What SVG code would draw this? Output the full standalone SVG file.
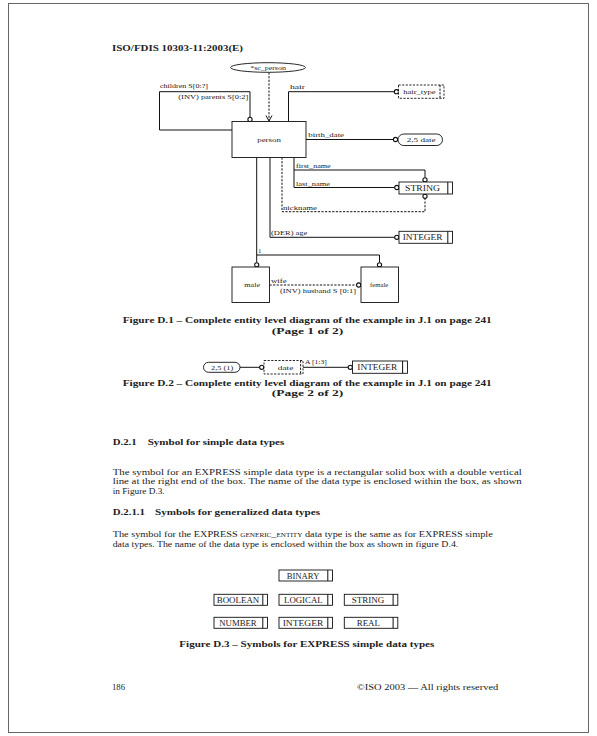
<svg xmlns="http://www.w3.org/2000/svg" width="597" height="736" viewBox="0 0 597 736">
<style>
text{font-family:"Liberation Serif","Times New Roman",serif;fill:#222}
.b{font-weight:bold}
.t{font-size:8.6px}
.s{font-size:7px}
.m{text-anchor:middle}
.e{text-anchor:end}
.ln{fill:none;stroke:#111;stroke-width:1}
.dl{fill:none;stroke:#111;stroke-width:1;stroke-dasharray:2.2,1.4}
.box{fill:#fff;stroke:#111;stroke-width:0.9}
.dbox{fill:#fff;stroke:#111;stroke-width:0.9;stroke-dasharray:2.2,1.4}
.c{fill:#fff;stroke:#111;stroke-width:1.1}
.dt{font-size:7.8px}
</style>
<rect x="0" y="0" width="597" height="736" fill="#fff"/>
<rect x="8.5" y="3.5" width="580" height="729" fill="none" stroke="#666" stroke-width="1"/>

<text class="b t" x="112" y="50.5" textLength="131" lengthAdjust="spacingAndGlyphs">ISO/FDIS 10303-11:2003(E)</text>

<!-- Figure D.1 -->
<g id="connectors">
  <path class="dl" d="M269,72.5 V120.5"/>
  <path class="ln" d="M266,115.5 L269,121 L272,115.5" stroke-width="0.8"/>
  <path class="ln" d="M250,117.3 V91.7 H159.5 V130 H232"/>
  <path class="ln" d="M288.5,121.5 V91.7 H394.3"/>
  <path class="ln" d="M306,139.5 H393.3"/>
  <path class="ln" d="M294,157.5 V187.5 H394.6"/>
  <path class="ln" d="M294,170 H425 V177.6"/>
  <path class="dl" d="M282,157.5 V211.7 H425 V198.5"/>
  <path class="ln" d="M270,157.5 V237.3 H394.6"/>
  <path class="ln" d="M256.7,157.5 V255 H379.5 V262.6"/>
  <path class="ln" d="M256.7,255 V262.6"/>
  <path class="dl" d="M269.5,285 H356.5"/>
  <circle class="c" cx="250" cy="119.4" r="2.1"/>
  <circle class="c" cx="396.4" cy="91.7" r="2.1"/>
  <circle class="c" cx="395.5" cy="139.5" r="2.1"/>
  <circle class="c" cx="425" cy="179.8" r="2.1"/>
  <circle class="c" cx="396.8" cy="187.5" r="2.1"/>
  <circle class="c" cx="425" cy="196.3" r="2.1"/>
  <circle class="c" cx="396.8" cy="237.3" r="2.1"/>
  <circle class="c" cx="256.7" cy="264.8" r="2.1"/>
  <circle class="c" cx="379.5" cy="264.8" r="2.1"/>
  <circle class="c" cx="358.7" cy="285" r="2.1"/>
  <text class="s" x="160" y="87.5" textLength="48" lengthAdjust="spacingAndGlyphs">children S[0:?]</text>
  <text class="s" x="178.3" y="98.8" textLength="70" lengthAdjust="spacingAndGlyphs">(INV) parents S[0:2]</text>
  <text class="s" x="290" y="89.3" textLength="15" lengthAdjust="spacingAndGlyphs">hair</text>
  <text class="s" x="308.3" y="137.2" textLength="35.7" lengthAdjust="spacingAndGlyphs">birth_date</text>
  <text class="s" x="296" y="168" textLength="34.7" lengthAdjust="spacingAndGlyphs">first_name</text>
  <text class="s" x="296" y="185.5" textLength="34" lengthAdjust="spacingAndGlyphs">last_name</text>
  <text class="s" x="283" y="210" textLength="34" lengthAdjust="spacingAndGlyphs">nickname</text>
  <text class="s" x="271" y="235.3" textLength="36.3" lengthAdjust="spacingAndGlyphs">(DER) age</text>
  <text class="s" x="258" y="252.7">1</text>
  <text class="s" x="271" y="283.3" textLength="15.7" lengthAdjust="spacingAndGlyphs">wife</text>
  <text class="s" x="280" y="292.5" textLength="76" lengthAdjust="spacingAndGlyphs">(INV) husband S [0:1]</text>
</g>

<g id="sc_person">
  <ellipse cx="268" cy="67.5" rx="37.5" ry="4.8" class="box"/>
  <text class="s" x="250.2" y="69.8" textLength="35.7" lengthAdjust="spacingAndGlyphs">*sc_person</text>
</g>
<g id="person">
  <rect class="box" x="232" y="121.5" width="74" height="36"/>
  <text class="s" x="257.2" y="141.5" textLength="23.7" lengthAdjust="spacingAndGlyphs">person</text>
</g>
<g id="hair_type">
  <rect class="dbox" x="398.5" y="85" width="45.5" height="13.3"/>
  <path class="dl" d="M440,85 V98.3" stroke-width="0.9"/>
  <text class="s" x="403.3" y="93.9" textLength="32.3" lengthAdjust="spacingAndGlyphs">hair_type</text>
</g>
<g id="date_2_5">
  <rect class="box" x="398" y="134" width="44.5" height="11.5" rx="5.75"/>
  <text class="s" x="406.7" y="142.2" textLength="29" lengthAdjust="spacingAndGlyphs">2,5 date</text>
</g>
<g id="STRING">
  <rect class="box" x="399" y="182" width="53.5" height="12"/>
  <path class="ln" d="M447.8,182 V194" stroke-width="0.9"/>
  <text class="dt" x="405" y="191" textLength="35" lengthAdjust="spacingAndGlyphs">STRING</text>
</g>
<g id="INTEGER">
  <rect class="box" x="399" y="231.3" width="53.5" height="12"/>
  <path class="ln" d="M447.8,231.3 V243.3" stroke-width="0.9"/>
  <text class="dt" x="402.7" y="240.3" textLength="39.7" lengthAdjust="spacingAndGlyphs">INTEGER</text>
</g>
<g id="male">
  <rect class="box" x="232" y="267" width="37.5" height="35.5"/>
  <text class="s" x="244.3" y="287.2" textLength="15.7" lengthAdjust="spacingAndGlyphs">male</text>
</g>
<g id="female">
  <rect class="box" x="361" y="267" width="37.5" height="35.5"/>
  <text class="s" x="370" y="287.2" textLength="18.3" lengthAdjust="spacingAndGlyphs">female</text>
</g>

<text class="b t" x="122.7" y="323.3" textLength="369" lengthAdjust="spacingAndGlyphs">Figure D.1 – Complete entity level diagram of the example in J.1 on page 241</text>
<text class="b t" x="271.7" y="333.7" textLength="71.6" lengthAdjust="spacingAndGlyphs">(Page 1 of 2)</text>

<!-- Figure D.2 -->
<g id="connectors2">
  <path class="ln" d="M240,367.3 H259.6"/>
  <path class="ln" d="M303,367.3 H348.2"/>
  <circle class="c" cx="261.7" cy="367.3" r="2.1"/>
  <circle class="c" cx="350.3" cy="367.3" r="2.1"/>
  <text class="s" x="305" y="363.5" textLength="21.7" lengthAdjust="spacingAndGlyphs">A [1:3]</text>
</g>
<g id="d2_2_5_1">
  <rect class="box" x="203.5" y="362.3" width="36.5" height="10" rx="5"/>
  <text class="s" x="211" y="369.7" textLength="22.3" lengthAdjust="spacingAndGlyphs">2,5 (1)</text>
</g>
<g id="d2_date">
  <rect class="dbox" x="264" y="360.5" width="39" height="13.5"/>
  <path class="dl" d="M300.6,360.5 V374" stroke-width="0.9"/>
  <text class="s" x="277.7" y="369.8" textLength="15.7" lengthAdjust="spacingAndGlyphs">date</text>
</g>
<g id="d2_INTEGER">
  <rect class="box" x="352.5" y="361" width="55" height="12.3"/>
  <path class="ln" d="M402.6,361 V373.3" stroke-width="0.9"/>
  <text class="dt" x="357.3" y="370.2" textLength="40" lengthAdjust="spacingAndGlyphs">INTEGER</text>
</g>

<text class="b t" x="122.7" y="386" textLength="369" lengthAdjust="spacingAndGlyphs">Figure D.2 – Complete entity level diagram of the example in J.1 on page 241</text>
<text class="b t" x="271.7" y="396.3" textLength="71.6" lengthAdjust="spacingAndGlyphs">(Page 2 of 2)</text>

<!-- Text -->
<text class="b t" x="112.7" y="445" textLength="24" lengthAdjust="spacingAndGlyphs">D.2.1</text>
<text class="b t" x="147.7" y="445" textLength="136.6" lengthAdjust="spacingAndGlyphs">Symbol for simple data types</text>
<text class="t" x="112.7" y="474.5" textLength="409" lengthAdjust="spacingAndGlyphs">The symbol for an EXPRESS simple data type is a rectangular solid box with a double vertical</text>
<text class="t" x="112.7" y="484" textLength="409" lengthAdjust="spacingAndGlyphs">line at the right end of the box. The name of the data type is enclosed within the box, as shown</text>
<text class="t" x="112.7" y="493.5" textLength="52" lengthAdjust="spacingAndGlyphs">in Figure D.3.</text>
<text class="b t" x="112.7" y="514.5" textLength="32.3" lengthAdjust="spacingAndGlyphs">D.2.1.1</text>
<text class="b t" x="155" y="514.5" textLength="165" lengthAdjust="spacingAndGlyphs">Symbols for generalized data types</text>
<text class="t" x="112.7" y="537" textLength="380" lengthAdjust="spacingAndGlyphs">The symbol for the EXPRESS <tspan font-variant="small-caps">generic_entity</tspan> data type is the same as for EXPRESS simple</text>
<text class="t" x="112.7" y="546.8" textLength="345.6" lengthAdjust="spacingAndGlyphs">data types. The name of the data type is enclosed within the box as shown in figure D.4.</text>

<!-- Figure D.3 -->
<g id="BINARY">
  <rect class="box" x="279" y="570" width="53.5" height="11"/>
  <path class="ln" d="M327.8,570 V581" stroke-width="0.9"/>
  <text class="dt" x="286.7" y="578.5" textLength="32.7" lengthAdjust="spacingAndGlyphs">BINARY</text>
</g>
<g id="BOOLEAN">
  <rect class="box" x="214" y="594.3" width="53.5" height="11"/>
  <path class="ln" d="M262.8,594.3 V605.3" stroke-width="0.9"/>
  <text class="dt" x="216.7" y="602.8" textLength="42.6" lengthAdjust="spacingAndGlyphs">BOOLEAN</text>
</g>
<g id="LOGICAL">
  <rect class="box" x="279" y="594.3" width="53.5" height="11"/>
  <path class="ln" d="M327.8,594.3 V605.3" stroke-width="0.9"/>
  <text class="dt" x="284" y="602.8" textLength="38.7" lengthAdjust="spacingAndGlyphs">LOGICAL</text>
</g>
<g id="STRING2">
  <rect class="box" x="344.3" y="594.3" width="53.5" height="11"/>
  <path class="ln" d="M393.1,594.3 V605.3" stroke-width="0.9"/>
  <text class="dt" x="351.7" y="602.8" textLength="32.6" lengthAdjust="spacingAndGlyphs">STRING</text>
</g>
<g id="NUMBER">
  <rect class="box" x="214" y="617.3" width="53.5" height="11"/>
  <path class="ln" d="M262.8,617.3 V628.3" stroke-width="0.9"/>
  <text class="dt" x="219.3" y="625.8" textLength="37.4" lengthAdjust="spacingAndGlyphs">NUMBER</text>
</g>
<g id="INTEGER2">
  <rect class="box" x="279" y="617.3" width="53.5" height="11"/>
  <path class="ln" d="M327.8,617.3 V628.3" stroke-width="0.9"/>
  <text class="dt" x="282.7" y="625.8" textLength="40.6" lengthAdjust="spacingAndGlyphs">INTEGER</text>
</g>
<g id="REAL">
  <rect class="box" x="344.3" y="617.3" width="53.5" height="11"/>
  <path class="ln" d="M393.1,617.3 V628.3" stroke-width="0.9"/>
  <text class="dt" x="356.7" y="625.8" textLength="23.3" lengthAdjust="spacingAndGlyphs">REAL</text>
</g>

<text class="b t" x="179.3" y="647" textLength="255" lengthAdjust="spacingAndGlyphs">Figure D.3 – Symbols for EXPRESS simple data types</text>

<text class="t" x="112" y="690" textLength="13" lengthAdjust="spacingAndGlyphs">186</text>
<text class="t" x="356.7" y="690" textLength="141.6" lengthAdjust="spacingAndGlyphs">©ISO 2003 — All rights reserved</text>
</svg>
